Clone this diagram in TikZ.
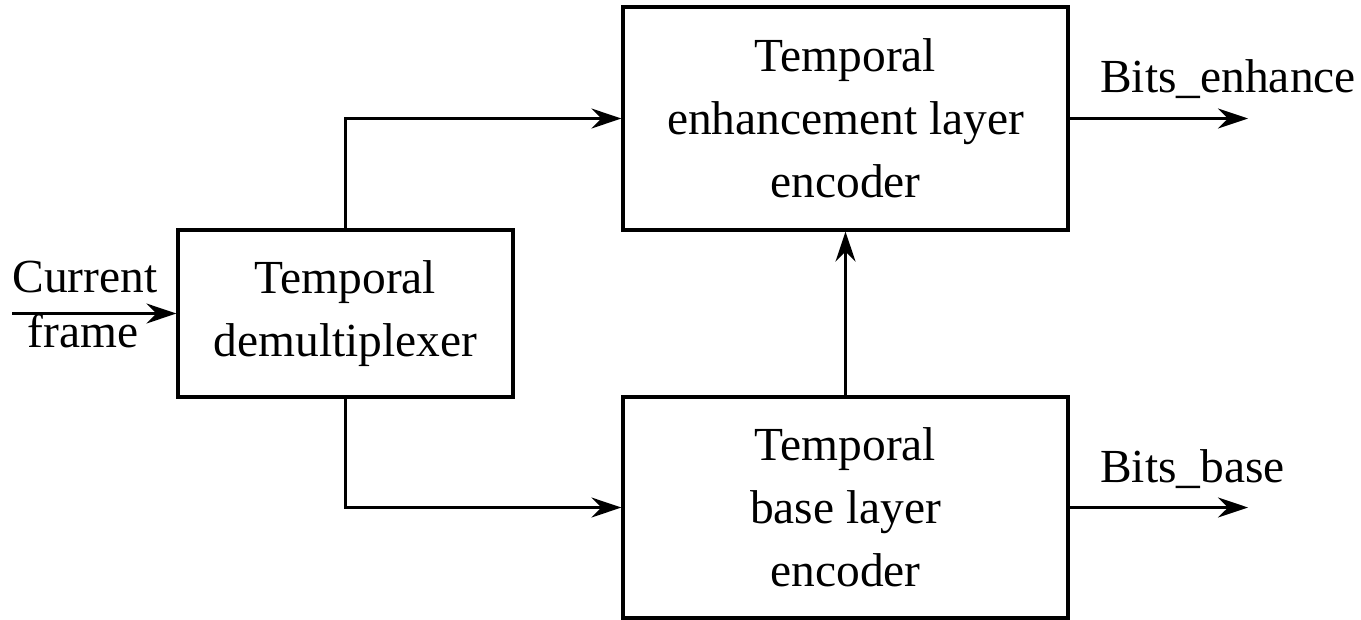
\documentclass[tikz,border=0pt]{standalone}
\usepackage{fontspec}
\setmainfont{Liberation Serif}
\usetikzlibrary{arrows.meta, positioning}

\begin{document}
\begin{tikzpicture}[
    block/.style={draw, line width=1.8pt, align=center, inner sep=0pt},
    flow/.style={line width=1.4pt, -{Stealth[length=0.6cm, width=0.4cm, inset=0.2cm]}},
    every node/.style={font=\fontsize{27}{35.8}\selectfont}
  ]
  \useasboundingbox (0,0) rectangle (27.22,-12.38);

  \node[block, minimum width=6.7cm, minimum height=3.34cm] (demux) at (6.91,-6.27) {Temporal\\demultiplexer};
  \node[block, minimum width=8.9cm, minimum height=4.46cm] (enh) at (16.91,-2.37) {Temporal\\enhancement layer\\encoder};
  \node[block, minimum width=8.9cm, minimum height=4.42cm] (base) at (16.91,-10.15) {Temporal\\base layer\\encoder};

  \coordinate (in) at (0.24,-6.27);
  \coordinate (outenh) at (24.96,-2.37);
  \coordinate (outbase) at (24.96,-10.15);

  \node[anchor=base] (cur) at (1.7,-5.84) {Current};
  \node[anchor=base] (frm) at (1.66,-6.94) {frame};
  \node[anchor=base west] (bitsenh) at (21.88,-1.84) {Bits\_enhance};
  \node[anchor=base west] (bitsbase) at (21.88,-9.64) {Bits\_base};

  \draw[flow] (in) -- (demux.west);
  \draw[flow] (demux.north) |- (enh.west);
  \draw[flow] (demux.south) |- (base.west);
  \draw[flow] (base.north) -- (enh.south);
  \draw[flow] (enh.east) -- (outenh);
  \draw[flow] (base.east) -- (outbase);
\end{tikzpicture}
\end{document}
